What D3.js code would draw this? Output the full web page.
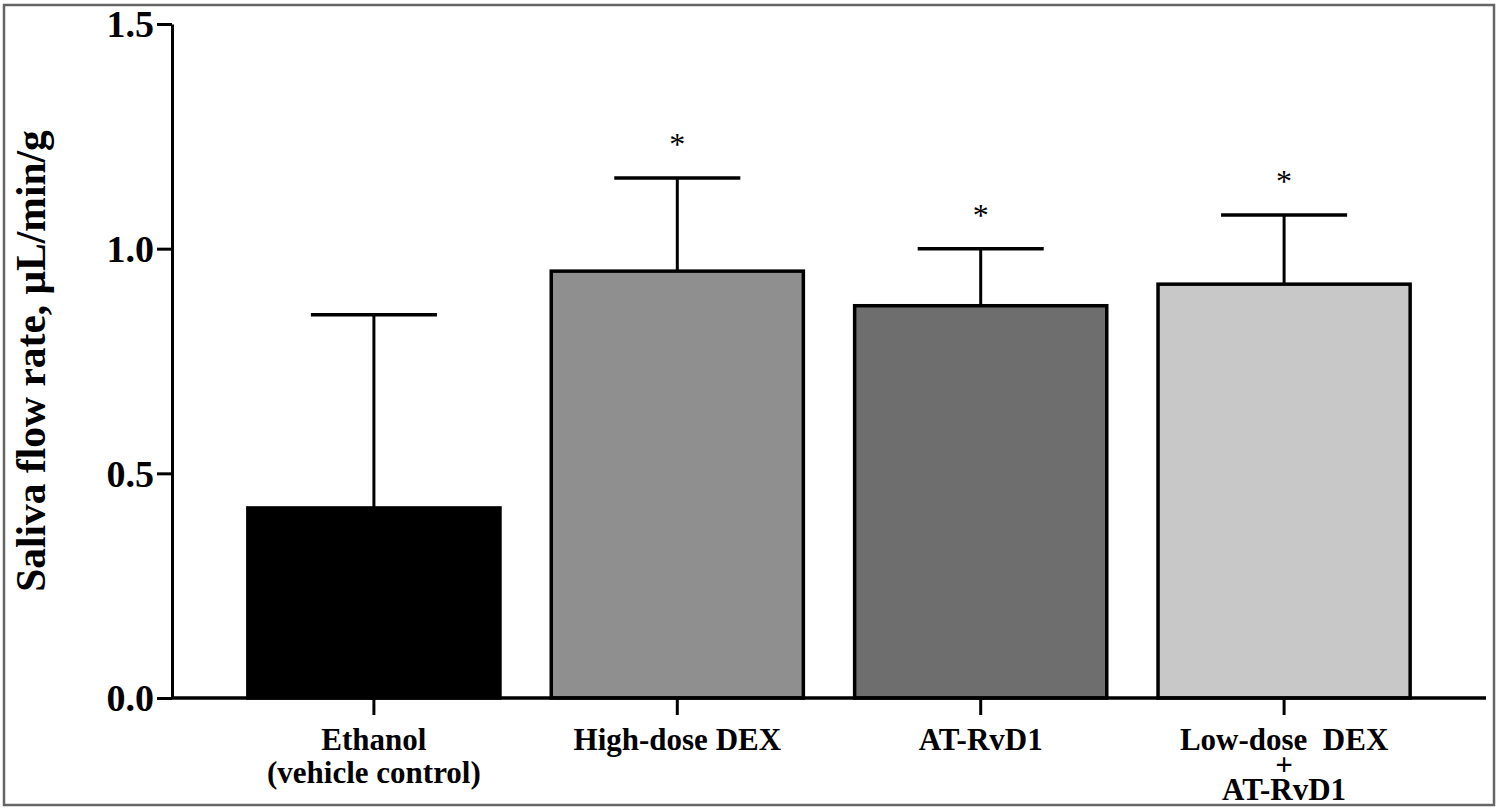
<!DOCTYPE html>
<html><head><meta charset="utf-8">
<script src="https://cdn.jsdelivr.net/npm/d3@7"></script>
<style>html,body{margin:0;padding:0;background:#fff;}</style>
</head><body>
<svg id="chart" width="1500" height="809"></svg>
<script>
const categories = ["Ethanol\n(vehicle control)", "High-dose DEX", "AT-RvD1", "Low-dose  DEX\n+\nAT-RvD1"];
const means = [0.423, 0.950, 0.873, 0.921];
const errTops = [0.853, 1.157, 1.000, 1.075];
const significant = [false, true, true, true];
const barColors = ["#000000", "#8f8f8f", "#6e6e6e", "#c8c8c8"];
const yTicks = [0.0, 0.5, 1.0, 1.5];

const svg = d3.select("#chart");
const font = "'Liberation Serif','Times New Roman',serif";

svg.append("rect").attr("x", 4).attr("y", 5).attr("width", 1490).attr("height", 800)
  .attr("fill", "#fff").attr("stroke", "#666").attr("stroke-width", 2.5);

const mLeft = 172, mRight = 1486, mTop = 24, mBottom = 698;
const y = d3.scaleLinear().domain([0, 1.5]).range([mBottom, mTop]);
const x = d3.scaleBand().domain(categories).range([mLeft, mRight]).paddingInner(0.169).paddingOuter(0.25);
const g = svg.append("g");
const bw = x.bandwidth();

// bars
g.selectAll("rect.bar").data(categories).enter().append("rect").attr("class", "bar")
  .attr("x", d => x(d)).attr("y", (d, i) => y(means[i]))
  .attr("width", bw).attr("height", (d, i) => y(0) - y(means[i]))
  .attr("fill", (d, i) => barColors[i]).attr("stroke", "#000").attr("stroke-width", 3.5);

// error bars
categories.forEach((d, i) => {
  const cx = x(d) + bw / 2;
  g.append("line").attr("x1", cx).attr("x2", cx).attr("y1", y(means[i])).attr("y2", y(errTops[i]))
    .attr("stroke", "#000").attr("stroke-width", 3);
  g.append("line").attr("x1", cx - bw / 4).attr("x2", cx + bw / 4).attr("y1", y(errTops[i])).attr("y2", y(errTops[i]))
    .attr("stroke", "#000").attr("stroke-width", 3.5);
  if (significant[i]) {
    g.append("text").attr("x", cx).attr("y", y(errTops[i]) - 23)
      .attr("text-anchor", "middle").attr("font-family", font).attr("font-size", 32)
      .attr("fill", "#000").text("*");
  }
});

// y axis
const yAxis = d3.axisLeft(y).tickValues(yTicks).tickFormat(d3.format(".1f")).tickSize(15).tickSizeOuter(0);
const ya = svg.append("g").attr("transform", `translate(${mLeft},0)`).call(yAxis);
ya.select(".domain").attr("stroke", "#000").attr("stroke-width", 3);
ya.selectAll(".tick line").attr("stroke", "#000").attr("stroke-width", 3);
ya.selectAll(".tick text").attr("font-family", font).attr("font-weight", "bold")
  .attr("font-size", 38).attr("fill", "#000").attr("x", -18).attr("dy", "0.34em");

// x axis
const xAxis = d3.axisBottom(x).tickSize(17).tickSizeOuter(0).tickFormat("");
const xa = svg.append("g").attr("transform", `translate(0,${mBottom})`).call(xAxis);
xa.select(".domain").attr("d", `M${mLeft},0H${mRight}`).attr("stroke", "#000").attr("stroke-width", 3.5);
xa.selectAll(".tick line").attr("stroke", "#000").attr("stroke-width", 3);
xa.selectAll(".tick").each(function(d) {
  const lines = d.split("\n");
  const t = d3.select(this).append("text").attr("font-family", font).attr("font-weight", "bold")
    .attr("font-size", 31).attr("fill", "#000").attr("text-anchor", "middle");
  lines.forEach((ln, j) => {
    t.append("tspan").attr("x", 0).attr("y", lines.length === 3 ? 52 + j * 25 : 52 + j * 33)
      .text(ln).style("white-space", "pre");
  });
});

// y label
svg.append("text").attr("transform", `translate(45,${(mTop + mBottom) / 2}) rotate(-90)`)
  .attr("text-anchor", "middle").attr("font-family", font).attr("font-weight", "bold")
  .attr("font-size", 41.5).attr("fill", "#000").text("Saliva flow rate, μL/min/g");
</script>
</body></html>
